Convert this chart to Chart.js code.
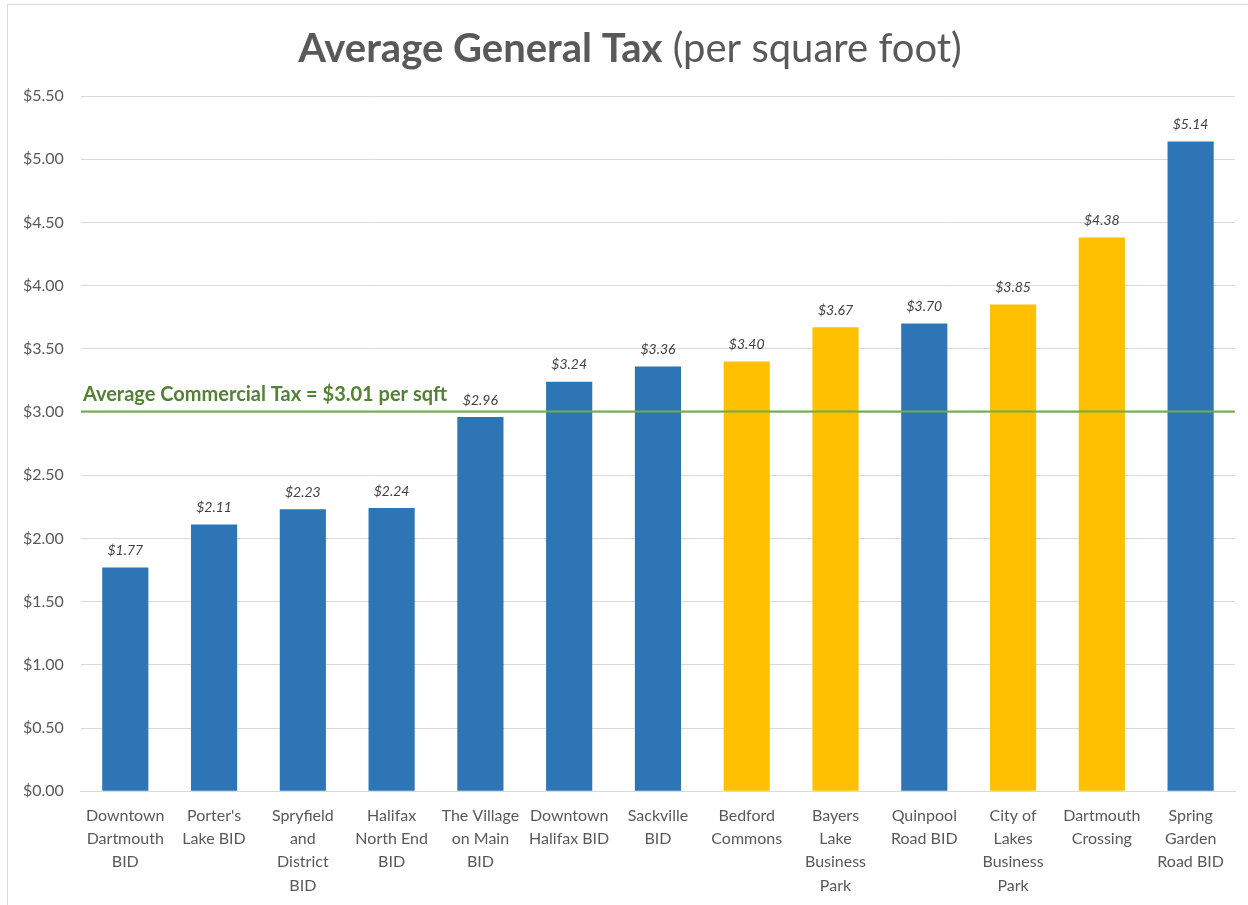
<!DOCTYPE html>
<html>
<head>
<meta charset="utf-8">
<script src="https://cdn.jsdelivr.net/npm/chart.js@4"></script>
<style>
  html, body { margin: 0; padding: 0; background: #fff; }
  #wrap { position: absolute; left: 0; top: 0; width: 1248px; height: 905px; }
</style>
</head>
<body>
<div id="wrap"><canvas id="myChart"></canvas></div>
<script>
const labels = [
  ['Downtown', 'Dartmouth', 'BID'],
  ["Porter's", 'Lake BID'],
  ['Spryfield', 'and', 'District', 'BID'],
  ['Halifax', 'North End', 'BID'],
  ['The Village', 'on Main', 'BID'],
  ['Downtown', 'Halifax BID'],
  ['Sackville', 'BID'],
  ['Bedford', 'Commons'],
  ['Bayers', 'Lake', 'Business', 'Park'],
  ['Quinpool', 'Road BID'],
  ['City of', 'Lakes', 'Business', 'Park'],
  ['Dartmouth', 'Crossing'],
  ['Spring', 'Garden', 'Road BID']
];
const taxValues = [1.77, 2.11, 2.23, 2.24, 2.96, 3.24, 3.36, 3.40, 3.67, 3.70, 3.85, 4.38, 5.14];
const barColors = ['#2E75B6', '#2E75B6', '#2E75B6', '#2E75B6', '#2E75B6', '#2E75B6', '#2E75B6',
                   '#FFC000', '#FFC000', '#2E75B6', '#FFC000', '#FFC000', '#2E75B6'];
const averageTax = 3.01;
const averageLabel = 'Average Commercial Tax = $3.01 per sqft';

const FONT = 'Lato, "Open Sans", sans-serif';

// frame + title
const frame = {
  id: 'frame',
  beforeDraw(chart) {
    const ctx = chart.ctx;
    ctx.save();
    ctx.strokeStyle = '#d9d9d9';
    ctx.lineWidth = 1;
    ctx.strokeRect(7.5, 4.5, 1250, 910);
    ctx.restore();
  },
  afterDraw(chart) {
    const ctx = chart.ctx;
    ctx.save();
    ctx.fillStyle = '#595959';
    ctx.textBaseline = 'alphabetic';
    const a = 'Average General Tax';
    const b = ' (per square foot)';
    ctx.font = 'bold 40px ' + FONT;
    const wa = ctx.measureText(a).width;
    ctx.font = '40px ' + FONT;
    const wb = ctx.measureText(b).width;
    let x = 630 - (wa + wb) / 2;
    ctx.font = 'bold 40px ' + FONT;
    ctx.fillText(a, x, 62);
    ctx.font = '40px ' + FONT;
    ctx.fillText(b, x + wa, 62);
    ctx.restore();
  }
};

// average line
const avgLine = {
  id: 'avgLine',
  afterDatasetsDraw(chart) {
    const ctx = chart.ctx;
    const y = Math.round(chart.scales.y.getPixelForValue(averageTax)) + 0.5;
    const area = chart.chartArea;
    ctx.save();
    ctx.strokeStyle = '#70AD47';
    ctx.lineWidth = 2;
    ctx.beginPath();
    ctx.moveTo(area.left, y);
    ctx.lineTo(area.right, y);
    ctx.stroke();
    ctx.fillStyle = '#548235';
    ctx.font = 'bold 20px ' + FONT;
    ctx.textBaseline = 'bottom';
    ctx.fillText(averageLabel, area.left + 2, y - 7);
    ctx.restore();
  }
};

// value labels
const valueLabels = {
  id: 'valueLabels',
  afterDatasetsDraw(chart) {
    const ctx = chart.ctx;
    const meta = chart.getDatasetMeta(0);
    ctx.save();
    ctx.fillStyle = '#404040';
    ctx.font = 'italic 14px ' + FONT;
    ctx.textAlign = 'center';
    ctx.textBaseline = 'bottom';
    meta.data.forEach((bar, i) => {
      ctx.fillText('$' + taxValues[i].toFixed(2), bar.x, bar.y - 10);
    });
    ctx.restore();
  }
};

const data = {
  labels: labels,
  datasets: [{
    data: taxValues,
    backgroundColor: barColors,
    barPercentage: 0.52,
    categoryPercentage: 1.0
  }]
};

const config = {
  type: 'bar',
  data,
  options: {
    responsive: false,
    animation: false,
    layout: { padding: { top: 96, right: 13, left: 6, bottom: -5 } },
    plugins: {
      legend: { display: false },
      tooltip: { enabled: false }
    },
    scales: {
      x: {
        grid: { display: false, drawTicks: false },
        border: { color: '#d9d9d9', width: 1 },
        ticks: {
          color: '#595959',
          font: { family: FONT, size: 16, lineHeight: 1.45 },
          maxRotation: 0,
          autoSkip: false,
          padding: 13
        }
      },
      y: {
        min: 0,
        max: 5.5,
        grid: { color: '#d9d9d9', drawTicks: false },
        border: { display: false },
        ticks: {
          stepSize: 0.5,
          color: '#595959',
          font: { family: FONT, size: 16 },
          padding: 17,
          callback: v => '$' + Number(v).toFixed(2)
        }
      }
    }
  },
  plugins: [frame, avgLine, valueLabels]
};

const canvas = document.getElementById('myChart');
canvas.width = 1248;
canvas.height = 905;
var myChart = new Chart(canvas, config);
</script>
</body>
</html>
